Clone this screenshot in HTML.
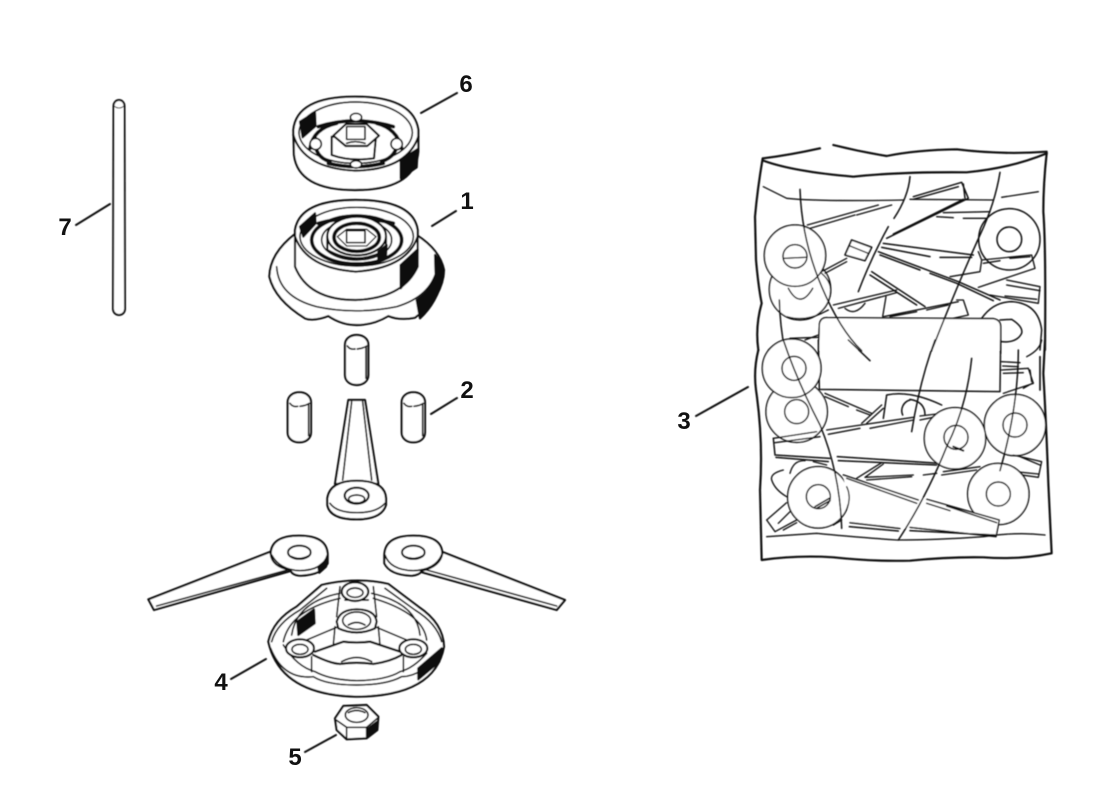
<!DOCTYPE html>
<html><head><meta charset="utf-8"><style>
html,body{margin:0;padding:0;background:#fff;width:1111px;height:785px;overflow:hidden}
svg{display:block}
text{font-family:"Liberation Sans",sans-serif;font-weight:700;font-size:24px;fill:#111;text-anchor:middle}
.z{fill:none;stroke:#111;stroke-width:6.500;stroke-linejoin:round;stroke-linecap:round}
.w{fill:#fff}
.k{fill:#111;stroke:#111}
.t{stroke-width:5}
.h{stroke-width:11}
</style></head><body>
<svg width="1111" height="785" viewBox="0 0 1111 785" xmlns="http://www.w3.org/2000/svg">
<defs><filter id="b" x="-2%" y="-2%" width="104%" height="104%"><feGaussianBlur stdDeviation="0.45"/></filter></defs>
<g filter="url(#b)">
<!-- rod 7 -->
<path d="M113.500,106 A5.500,6 0 0 1 124.500,106 L125,309 A6,6 0 0 1 113,309 Z" fill="#fff" stroke="#111" stroke-width="2"/>
<path d="M114,106 Q119,110 124,106" fill="none" stroke="#111" stroke-width="1"/>

<!-- parts 6 and 1 -->
<g class="z" transform="translate(250,80) scale(.33333)">
 <!-- 6 -->
 <path class="w" d="M130,150 L132,225 Q145,330 315,330 Q495,330 505,215 L505,150 Q490,50 315,50 Q140,50 130,150 Z"/>
 <ellipse cx="317" cy="158" rx="170" ry="92" class="t"/>
 <path d="M130,165 Q160,265 315,272 Q470,270 505,170"/>
 <path class="k" d="M150,125 L195,97 L197,138 L158,172 Z"/>
 <path class="k" d="M452,240 L503,207 L500,262 L452,295 Z"/>
 <path class="h" d="M205,140 Q315,105 430,140"/>
 <path class="h" d="M180,205 Q190,145 260,130 M455,205 Q440,145 380,130"/>
 <path class="h" d="M235,250 Q315,270 400,250"/>
 <path class="h" d="M195,170 Q190,230 240,245 M440,170 Q450,225 395,245"/>
 <circle cx="197" cy="192" r="17" class="w t"/><circle cx="440" cy="192" r="17" class="w t"/>
 <ellipse cx="318" cy="112" rx="17" ry="12" class="w t"/><ellipse cx="318" cy="253" rx="17" ry="11" class="w t"/>
 <path class="w" d="M245,170 L245,225 Q300,245 372,235 L378,170 Z"/>
 <path class="w" d="M250,167 L288,132 L350,132 L387,167 L352,198 L287,198 Z"/>
 <path class="t" d="M290,140 L345,140 L345,178 L290,178 Z M290,190 Q315,180 345,190"/>
 <!-- 1 base -->
 <path class="w" d="M135,462 Q60,520 58,590 Q75,660 165,715 Q190,725 235,708 Q275,735 320,735 Q370,735 415,708 Q450,722 495,713 Q580,650 582,570 Q570,510 500,465 Z"/>
 <path class="t" d="M80,560 Q85,650 200,680 Q315,705 440,680 Q540,650 560,570"/>
 <path class="k" d="M555,525 Q585,560 580,590 Q560,670 510,715 L500,660 Q545,630 557,590 Z"/>
 <!-- 1 ring -->
 <path class="w" d="M135,450 L135,560 Q175,660 317,660 Q460,655 503,560 L503,450 Q490,360 317,360 Q150,360 135,450 Z"/>
 <ellipse cx="320" cy="470" rx="170" ry="88" class="t"/>
 <path d="M135,470 Q170,565 317,575 Q470,565 503,470"/>
 <path class="k" d="M150,440 L195,400 L197,430 L160,470 Z"/>
 <path class="k" d="M452,555 L503,508 L500,565 L452,625 Z"/>
 <path class="h" d="M205,430 Q315,400 430,430"/>
 <ellipse cx="320" cy="480" rx="135" ry="72" class="h"/>
 <ellipse cx="320" cy="480" rx="105" ry="60" class="t"/>
 <path class="w" d="M232,470 L232,510 Q320,560 408,510 L408,470 Z"/>
 <path class="k" d="M385,515 L410,495 L408,530 L385,550 Z"/>
 <ellipse cx="320" cy="468" rx="88" ry="58" class="w"/>
 <ellipse cx="320" cy="472" rx="68" ry="42" class="h"/>
 <path class="w" d="M262,470 L290,448 L350,448 L378,470 L350,498 L290,498 Z" stroke-width="4"/>
 <path class="t" d="M290,452 L345,452 L345,488 L290,488 Z"/>
</g>

<!-- pins and top blade -->
<g class="z" transform="translate(270,330) scale(.33333)">
 <g id="pin"><path class="w" d="M225,45 C225,5 295,5 295,45 L295,135 C295,175 225,175 225,135 Z"/><path class="t" d="M232,48 Q240,60 255,57 M262,57 Q280,55 290,48"/><path class="t" d="M288,50 L288,145"/></g>
 <use href="#pin" x="-172" y="172"/><use href="#pin" x="170" y="172"/>
 <path class="w" d="M235,210 L285,210 L325,462 L195,462 Z"/>
 <path class="t" d="M245,215 L218,450 M278,215 L305,450"/>
 <path class="w" d="M172,505 Q180,452 260,452 Q345,452 348,505 L348,525 Q335,568 260,568 Q180,568 172,525 Z"/>
 <path class="t" d="M180,520 Q200,548 262,548 Q320,548 345,520"/>
 <ellipse cx="260" cy="497" rx="36" ry="24"/>
 <ellipse cx="260" cy="507" rx="24" ry="12" class="t"/>
</g>

<!-- blades, part 4, nut -->
<g class="z" transform="translate(140,520) scale(.33333)">
 <path class="w" d="M392,95 L25,238 L42,270 L455,152 Z"/>
 <path class="t" d="M50,258 L450,148"/>
 <path class="w" d="M392,100 Q395,47 477,47 Q562,47 563,105 L563,130 Q545,165 480,167 Q455,165 452,150 Q395,140 392,100 Z"/>
 <path class="k" d="M535,140 L562,118 L558,140 L538,158 Z"/>
 <path class="t" d="M395,105 Q420,150 480,152 Q550,150 562,105"/>
 <ellipse cx="478" cy="97" rx="34" ry="20" stroke-width="6"/>
 <path class="t" d="M455,110 Q478,122 505,108"/>

 <path class="w" d="M905,95 L1275,240 L1250,270 L840,155 Z"/>
 <path class="t" d="M1250,258 L860,150"/>
 <path class="w" d="M733,105 Q735,47 820,47 Q905,47 907,100 Q900,140 845,152 Q840,165 815,167 Q750,165 733,130 Z"/>
 <path class="t" d="M735,105 Q750,150 820,152 Q885,150 905,105"/>
 <ellipse cx="820" cy="97" rx="34" ry="20" stroke-width="6"/>
 <path class="t" d="M795,110 Q820,122 847,108"/>

 <!-- part 4 -->
 <path class="w" d="M385,365 Q400,300 470,260 L545,195 Q650,170 745,192 L835,260 Q910,310 912,380 Q885,528 650,530 Q420,525 385,365 Z"/>
 <path class="t" d="M395,365 Q410,310 480,270 L560,205 M735,205 L825,270 Q890,310 905,365"/>
 <path class="t" d="M392,385 Q430,480 520,470 Q560,495 650,495 Q740,495 785,470 Q850,470 905,385"/>
 <path class="t" d="M430,375 Q470,440 525,455 Q570,480 650,482 Q740,480 780,455 Q820,445 860,400"/>
 <path class="k" d="M835,445 L905,385 L898,425 L835,478 Z"/>
 <path class="k" d="M472,305 L522,268 L524,310 L475,345 Z"/>
 <path stroke-width="5" d="M455,345 Q470,245 600,220 M695,220 Q830,250 840,345"/>
 <path class="t" d="M430,365 Q450,270 600,235 M860,360 Q850,280 700,235"/>
 <path stroke-width="5" d="M600,200 L590,290 M700,200 L710,290 M615,240 L685,240"/>
 <path class="t" d="M585,320 L580,375 M715,320 L720,375 M515,410 L515,455 M790,410 L790,455"/>
 <path stroke-width="5" d="M500,360 L590,322 M800,360 L710,322"/>
 <path stroke-width="7" d="M525,395 L610,365 Q650,370 690,365 L780,395"/>
 <path stroke-width="7" d="M520,405 Q570,430 600,432 Q650,425 700,432 Q750,425 785,405"/>
 <path class="t" d="M605,425 Q650,400 695,425"/>
 <ellipse cx="480" cy="385" rx="42" ry="27" class="w"/>
 <ellipse cx="820" cy="385" rx="42" ry="27" class="w"/>
 <ellipse cx="645" cy="215" rx="40" ry="28" class="w"/>
 <ellipse cx="480" cy="388" rx="24" ry="15" class="t"/>
 <ellipse cx="820" cy="388" rx="24" ry="15" class="t"/>
 <ellipse cx="645" cy="218" rx="24" ry="14" class="t"/>
 <path class="w" d="M590,305 Q600,268 650,268 Q705,268 710,305 L705,325 Q650,350 595,325 Z"/>
 <ellipse cx="650" cy="302" rx="42" ry="26" class="t"/>
 <path class="t" d="M625,315 Q650,300 675,315"/>
 <!-- nut -->
 <path class="w" d="M585,595 L610,558 L680,555 L715,590 L712,630 L680,655 L620,658 L590,630 Z"/>
 <path class="t" d="M588,600 L620,622 L680,622 L712,595 M620,622 L620,655 M680,622 L680,655"/>
 <ellipse cx="650" cy="585" rx="34" ry="22" stroke-width="5"/>
 <path class="t" d="M625,578 Q650,565 675,578"/>
 <path class="k" d="M685,625 L712,605 L710,630 L685,650 Z"/>
</g>

<!-- bag upper -->
<g class="z" transform="translate(750,140) scale(.33333)" stroke-width="5">
 <path d="M38,55 Q22,150 15,230 L18,360 Q25,440 35,490 Q15,560 25,630"/>
 <path d="M40,55 Q120,45 210,25 M250,15 Q330,35 410,48 Q500,30 620,28 Q760,45 890,35 L890,40 Q880,130 880,215 Q888,320 885,630"/>
 <path d="M40,62 Q130,95 310,110 Q450,95 650,97 Q780,85 890,40"/>
 <path d="M40,140 L110,175 Q200,185 460,180 M480,178 L730,180 M755,172 L865,155" stroke-width="4"/>
 <!-- washers back -->
 <circle cx="150" cy="448" r="92" class="w" stroke-width="4.500"/>
 <path stroke-width="4.500" d="M115,445 Q150,510 188,445"/>
 <circle cx="135" cy="347" r="92" class="w" stroke-width="4.500"/>
 <ellipse cx="135" cy="349" rx="36" ry="35" stroke-width="4.500"/>
 <path d="M102,355 L168,352" stroke-width="4"/>
 <circle cx="778" cy="298" r="92" stroke-width="4.500"/>
 <circle cx="778" cy="298" r="37" stroke-width="4.500"/>
 <!-- blades -->
 <path d="M172,255 L385,195 M180,265 L315,225 M320,225 L425,195" stroke-width="4"/>
 <path d="M490,170 L635,127 L655,175 L410,295 M490,178 L625,140 M640,132 L645,175 M430,282 L640,178" stroke-width="4.500"/>
 <path d="M560,230 L610,233 M640,235 L710,235 M580,218 L720,215" stroke-width="4"/>
 <path d="M305,300 L365,322 L345,362 L285,345 Z" class="w" stroke-width="5"/>
 <path d="M300,318 L355,340 M215,395 L290,355 M225,400 L290,365" stroke-width="4"/>
 <path d="M400,310 L670,345 M395,322 L540,350 M570,352 L665,352 M385,335 L625,425 L750,480 M390,345 L510,390 M540,400 L620,430 L730,482" stroke-width="4.500"/>
 <path d="M365,395 L525,500 M360,405 L500,495" stroke-width="4.500"/>
 <path d="M695,360 L845,345 L855,385 L685,442 M700,370 L750,362 M780,355 L840,350 M685,335 L695,360 L690,395 L600,410" stroke-width="4"/>
 <path d="M770,420 L870,440 L865,490 L720,465 M870,452 L770,435 M860,478 L765,468" stroke-width="4"/>
 <path d="M250,495 L440,450 M265,505 L440,458" stroke-width="4"/>
 <path d="M400,530 L625,485 M420,530 L500,515 M530,510 L595,495" stroke-width="4"/>
 <path d="M285,505 Q315,530 345,490 M408,470 L398,530" stroke-width="4"/>
 <path d="M620,480 L640,480 L655,525 L610,535" stroke-width="4"/>
 <!-- second right washer -->
 <path d="M695,535 Q730,485 785,485 Q865,490 875,570 L870,630" stroke-width="4.500"/>
 <path d="M750,540 L785,538 Q820,560 815,580 Q800,610 752,605" stroke-width="4.500"/>
 <!-- left lower washer top -->
 <path d="M55,630 Q75,610 105,605 M120,595 L205,592 M165,600 L205,585" stroke-width="4"/>
 <path d="M110,530 Q160,545 215,520 L235,510" stroke-width="4"/>
 <path d="M215,400 Q250,430 240,470" stroke-width="4"/>
 <!-- label -->
 <path class="w" d="M205,630 L205,552 Q210,532 230,533 L730,536 Q752,540 752,560 L752,630 Z" stroke="none"/>
 <path stroke-width="4.500" d="M205,640 L208,552 Q212,532 232,533 L730,536 Q752,540 752,560 L752,640"/>
 <!-- folds -->
 <path d="M150,148 Q155,300 215,440 Q270,570 335,632" stroke-width="4.500"/>
 <path d="M480,110 Q475,170 432,235 M415,260 Q365,350 325,455" stroke-width="4.500"/>
 <path d="M750,97 Q735,190 690,285 Q620,440 545,632" stroke-width="4.500"/>
 <path d="M88,480 Q90,560 105,632" stroke-width="4.500"/>
</g>

<!-- bag lower -->
<g class="z" transform="translate(750,340) scale(.33333)" stroke-width="5">
 <path d="M25,30 Q10,90 18,150 Q40,300 30,450 L35,660 Q140,645 250,652 Q370,665 480,662 Q600,650 700,652 Q810,660 905,640 L895,430 Q890,280 880,100 L885,0"/>
 <path d="M50,590 L200,580 Q300,590 440,600 Q560,600 700,590 Q800,575 885,585" stroke-width="4"/>
 <path d="M205,0 L208,148 L750,155 L752,0" stroke-width="4.500"/>
 <!-- back washers -->
 <circle cx="140" cy="215" r="92" class="w" stroke-width="4.500"/>
 <circle cx="140" cy="215" r="36" stroke-width="4.500"/>
 <circle cx="125" cy="85" r="88" class="w" stroke-width="4.500"/>
 <circle cx="132" cy="85" r="36" stroke-width="4.500"/>
 <path d="M400,235 L410,165 Q480,150 575,195 M480,180 A33,33 0 0 0 458,225 M480,178 Q525,185 525,225" stroke-width="4.500"/>
 <circle cx="795" cy="255" r="92" class="w" stroke-width="4.500"/>
 <circle cx="795" cy="255" r="36" stroke-width="4.500"/>
 <!-- blades -->
 <path d="M225,160 L365,220 M225,170 L295,200 M320,210 L360,225" stroke-width="4"/>
 <path d="M335,250 L395,195 M350,250 L400,205" stroke-width="4"/>
 <path d="M70,295 L200,275 M75,308 L210,290 M230,270 L490,232 M235,283 L330,265 M360,265 L490,240 M510,228 L560,222 M510,240 L550,232" stroke-width="4"/>
 <path d="M70,295 L75,345 L240,355 M78,352 L235,365 M262,350 L570,370 M265,362 L560,375" stroke-width="4.500"/>
 <path d="M320,415 L395,368 M345,412 L400,372 M345,412 L490,405 M350,420 L485,410 M520,405 L560,400 M580,395 L690,380 M575,405 L680,390" stroke-width="4"/>
 <path d="M790,345 L875,365 L865,412 L780,400 M810,350 L870,375 M795,395 L865,402" stroke-width="4"/>
 <circle cx="615" cy="295" r="92" class="w" stroke-width="4.500"/>
 <circle cx="618" cy="292" r="36" stroke-width="4.500"/>
 <path d="M610,320 L640,332" stroke-width="6"/>
 <circle cx="745" cy="462" r="92" stroke-width="4.500" class="w"/>
 <circle cx="745" cy="462" r="36" stroke-width="4.500"/>
 <path d="M100,390 Q60,400 65,420 Q75,450 110,470 M120,400 Q130,360 165,362 M190,365 L230,375" stroke-width="4"/>
 <path d="M50,540 L110,488 M75,575 L140,540 M50,540 L75,575 M100,570 L140,548 M85,550 L120,515" stroke-width="4"/>
 <circle cx="205" cy="472" r="92" class="w" stroke-width="4.500"/>
 <circle cx="205" cy="470" r="36" stroke-width="4.500"/>
 <path d="M195,500 L238,475 M200,505 L240,482" stroke-width="5"/>
 <!-- big blade -->
 <path class="w" stroke="none" d="M280,405 L750,540 L740,590 L300,548 Z"/>
 <path d="M280,405 L505,480 M290,415 L500,490 M530,478 L748,540 L738,590 L480,562 M530,490 L600,512 M590,498 L740,548 M300,548 L450,565 M298,560 L445,573 M480,572 L735,585" stroke-width="4.500"/>
 <path d="M290,510 Q305,470 290,440 M250,555 L275,540" stroke-width="4"/>
 <path d="M755,90 L835,85 L850,130 L760,160 M760,100 L820,98 M820,145 L850,128 M840,90 L845,125" stroke-width="4"/>
 <path d="M755,65 L810,68 M758,78 L805,80" stroke-width="4"/>
 <path d="M830,50 Q870,30 875,0" stroke-width="4"/>
 <!-- folds -->
 <path d="M100,0 Q140,120 210,255 Q270,400 275,565" stroke-width="4.500"/>
 <path d="M555,0 Q510,120 485,275 M295,0 L360,62" stroke-width="4.500"/>
 <path d="M665,55 Q650,200 590,320 Q530,470 445,600" stroke-width="4.500"/>
 <path d="M805,30 Q805,200 750,392" stroke-width="4.500"/>
 <path d="M870,50 L870,150" stroke-width="5"/>
</g>

<!-- leaders -->
<g stroke="#111" stroke-width="2" stroke-linecap="round">
 <line x1="421" y1="113" x2="457" y2="93"/>
 <line x1="432" y1="226" x2="456" y2="211"/>
 <line x1="431" y1="414" x2="457" y2="398"/>
 <line x1="696" y1="416" x2="748" y2="387"/>
 <line x1="76" y1="225" x2="110" y2="204"/>
 <line x1="231" y1="679" x2="266" y2="659"/>
 <line x1="305" y1="752" x2="336" y2="735"/>
</g>
</g>
<text x="466" y="92">6</text>
<text x="467" y="209">1</text>
<text x="467" y="398">2</text>
<text x="684" y="429">3</text>
<text x="65" y="235">7</text>
<text x="221" y="690">4</text>
<text x="295" y="765">5</text>
</svg>
</body></html>
